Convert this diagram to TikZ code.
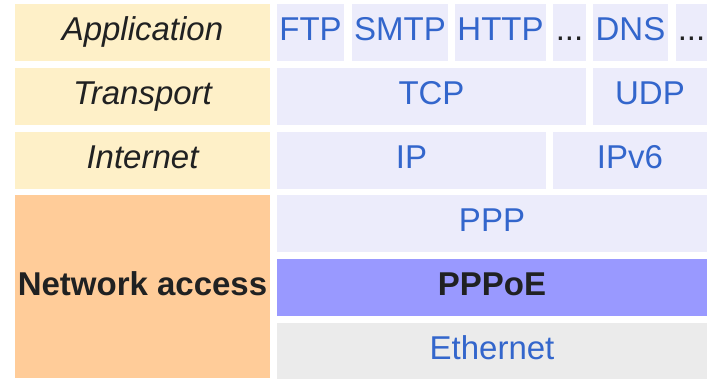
\documentclass[tikz,border=0pt]{standalone}
\usepackage{fontspec}
\setmainfont{Liberation Sans}
\definecolor{laycol}{HTML}{FEF0C8}
\definecolor{netcol}{HTML}{FFCC99}
\definecolor{protcol}{HTML}{ECECFB}
\definecolor{pppoecol}{HTML}{9999FF}
\definecolor{ethcol}{HTML}{EBEBEB}
\definecolor{bluetxt}{HTML}{3366CC}
\definecolor{darktxt}{HTML}{202122}
\tikzset{
  cell/.style={anchor=north west, inner sep=0pt, outer sep=0pt,
    text height=23.5pt, text depth=7.5pt,
    font=\fontsize{33}{40}\selectfont},
  layer/.style={cell, fill=laycol, text=darktxt, font=\fontsize{33}{40}\selectfont\itshape},
  prot/.style={cell, fill=protcol, text=bluetxt},
}
\begin{document}
\begin{tikzpicture}[x=1pt,y=-1pt]
\useasboundingbox (0,0) rectangle (709,378);
% left column
\node[layer, minimum width=255pt, minimum height=57pt] (app) at (15,4) {Application};
\node[layer, minimum width=255pt, minimum height=57pt] (trans) at (15,68) {Transport};
\node[layer, minimum width=255pt, minimum height=57pt] (inet) at (15,132) {Internet};
\node[cell, fill=netcol, text=darktxt, font=\fontsize{33}{40}\selectfont\bfseries,
  minimum width=255pt, minimum height=183pt, text height=23.5pt, text depth=6.5pt] (netacc) at (15,195) {Network access};
% application row
\node[prot, minimum width=67pt, minimum height=57pt] (ftp) at (277,4) {FTP};
\node[prot, minimum width=96pt, minimum height=57pt] (smtp) at (352,4) {SMTP};
\node[prot, minimum width=91pt, minimum height=57pt] (http) at (455,4) {HTTP};
\node[prot, text=darktxt, minimum width=33pt, minimum height=57pt] (dots1) at (553,4) {...};
\node[prot, minimum width=75pt, minimum height=57pt] (dns) at (593,4) {DNS};
\node[prot, text=darktxt, minimum width=31pt, minimum height=57pt] (dots2) at (676,4) {...};
% transport row
\node[prot, minimum width=309pt, minimum height=57pt] (tcp) at (277,68) {TCP};
\node[prot, minimum width=114pt, minimum height=57pt] (udp) at (593,68) {UDP};
% internet row
\node[prot, minimum width=269pt, minimum height=57pt] (ip) at (277,132) {IP};
\node[prot, minimum width=154pt, minimum height=57pt] (ipv6) at (553,132) {IPv6};
% network access rows
\node[prot, minimum width=430pt, minimum height=57pt] (ppp) at (277,195) {PPP};
\node[cell, fill=pppoecol, text=darktxt, font=\fontsize{33}{40}\selectfont\bfseries,
  minimum width=430pt, minimum height=57pt] (pppoe) at (277,259) {PPPoE};
\node[cell, fill=ethcol, text=bluetxt, minimum width=430pt, minimum height=57pt] (eth) at (277,323) {Ethernet};
\end{tikzpicture}
\end{document}
